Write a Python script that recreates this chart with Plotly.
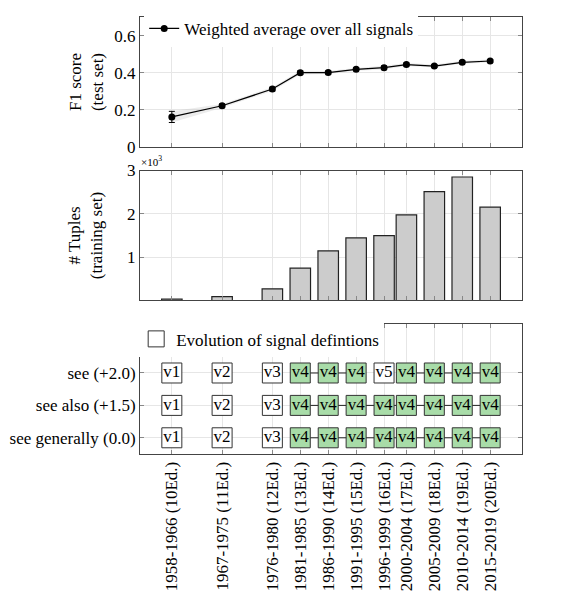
import plotly.graph_objects as go

# ---------------- data ----------------
editions = ["1958-1966 (10Ed.)", "1967-1975 (11Ed.)", "1976-1980 (12Ed.)",
            "1981-1985 (13Ed.)", "1986-1990 (14Ed.)", "1991-1995 (15Ed.)",
            "1996-1999 (16Ed.)", "2000-2004 (17Ed.)", "2005-2009 (18Ed.)",
            "2010-2014 (19Ed.)", "2015-2019 (20Ed.)"]
start_years = [1958, 1967, 1976, 1981, 1986, 1991, 1996, 2000, 2005, 2010, 2015]
f1_score = [0.162, 0.222, 0.312, 0.400, 0.401, 0.418, 0.427, 0.444, 0.436, 0.456, 0.463]
f1_err = [0.030, 0.010, 0.010, 0.010, 0.008, 0.008, 0.010, 0.008, 0.008, 0.008, 0.008]
tuples = [30, 90, 270, 745, 1145, 1445, 1495, 1975, 2515, 2850, 2155]

signal_rows = ["see (+2.0)", "see also (+1.5)", "see generally (0.0)"]
row_pos = [2, 1, 0]
versions_see = ["v1", "v2", "v3", "v4", "v4", "v4", "v5", "v4", "v4", "v4", "v4"]
versions_see_also = ["v1", "v2", "v3", "v4", "v4", "v4", "v4", "v4", "v4", "v4", "v4"]
versions_see_generally = ["v1", "v2", "v3", "v4", "v4", "v4", "v4", "v4", "v4", "v4", "v4"]
versions = [versions_see, versions_see_also, versions_see_generally]

# ---------------- style ----------------
FONT = "Liberation Serif, 'Times New Roman', Times, 'DejaVu Serif', serif"
AXC = "#444444"
GRID = "#e6e6e6"
GREEN = "#a8dca8"

fig = go.Figure()

# band
upper = [v + e for v, e in zip(f1_score, f1_err)]
lower = [v - e for v, e in zip(f1_score, f1_err)]
fig.add_trace(go.Scatter(x=start_years, y=upper, mode="lines", line=dict(width=0),
                         showlegend=False, hoverinfo="skip", xaxis="x", yaxis="y"))
fig.add_trace(go.Scatter(x=start_years, y=lower, mode="lines", line=dict(width=0),
                         fill="tonexty", fillcolor="rgba(200,200,200,0.35)",
                         showlegend=False, hoverinfo="skip", xaxis="x", yaxis="y"))
fig.add_trace(go.Scatter(x=start_years, y=f1_score, mode="lines+markers",
                         name="Weighted average over all signals",
                         line=dict(color="black", width=1.2),
                         marker=dict(color="black", size=7, symbol="circle"),
                         error_y=dict(type="data", array=f1_err, color="black",
                                      thickness=1, width=3),
                         xaxis="x", yaxis="y", legend="legend"))

# bars
fig.add_trace(go.Bar(x=start_years, y=tuples, width=3.67,
                     marker=dict(color="#cccccc", line=dict(color="#222222", width=1.2)),
                     showlegend=False, xaxis="x2", yaxis="y2"))

# connector lines between consecutive v4 boxes
for vers, yp in zip(versions, row_pos):
    lx, ly = [], []
    for i in range(len(vers) - 1):
        if vers[i] == "v4" and vers[i + 1] == "v4":
            lx += [start_years[i], start_years[i + 1], None]
            ly += [yp, yp, None]
    fig.add_trace(go.Scatter(x=lx, y=ly, mode="lines", line=dict(color="#222222", width=1),
                             showlegend=False, hoverinfo="skip", xaxis="x3", yaxis="y3"))

# boxes
bx, by, bt, bc = [], [], [], []
for vers, yp in zip(versions, row_pos):
    for x, v in zip(start_years, vers):
        bx.append(x)
        by.append(yp)
        bt.append(v)
        bc.append(GREEN if v == "v4" else "white")
fig.add_trace(go.Scatter(x=bx, y=by, mode="markers+text", text=bt,
                         textposition="middle center",
                         textfont=dict(family=FONT, size=17, color="black"),
                         marker=dict(symbol="square", size=20, color=bc,
                                     line=dict(color="#333333", width=1)),
                         name="Evolution of signal defintions",
                         xaxis="x3", yaxis="y3", legend="legend2"))

xr = [1952.3, 2020.7]
common_x = dict(range=xr, tickvals=start_years, showgrid=True, gridcolor=GRID,
                gridwidth=1, showline=True, linecolor=AXC, linewidth=1, mirror="allticks",
                ticks="inside", ticklen=4, tickcolor="#888888", zeroline=False)
common_y = dict(showgrid=True, gridcolor=GRID, gridwidth=1, showline=True, linecolor=AXC,
                linewidth=1, mirror="allticks", ticks="inside", ticklen=4,
                tickcolor="#888888", zeroline=False,
                tickfont=dict(family=FONT, size=17, color="black"))

fig.update_layout(
    width=567, height=599,
    margin=dict(l=139.7, r=45.3, t=8, b=145),
    paper_bgcolor="white", plot_bgcolor="white",
    font=dict(family=FONT, size=17, color="black"),
    xaxis=dict(common_x, anchor="y", showticklabels=False),
    xaxis2=dict(common_x, anchor="y2", showticklabels=False),
    xaxis3=dict(common_x, anchor="y3", ticktext=editions, tickangle=-90,
                tickfont=dict(family=FONT, size=17, color="black")),
    yaxis=dict(common_y, domain=[0.7025, 1.0], range=[0, 0.7],
               tickvals=[0, 0.2, 0.4, 0.6], ticktext=["0", "0.2", "0.4", "0.6"],
               title=dict(text="F1 score<br>(test set)", standoff=6,
                          font=dict(family=FONT, size=17))),
    yaxis2=dict(common_y, domain=[0.3513, 0.6487], range=[0, 3000],
                tickvals=[1000, 2000, 3000], ticktext=["1", "2", "3"],
                title=dict(text="# Tuples<br>(training set)", standoff=20,
                           font=dict(family=FONT, size=17))),
    yaxis3=dict(common_y, domain=[0, 0.2966], range=[-0.5, 3.5],
                tickvals=row_pos, ticktext=signal_rows),
    legend=dict(x=0.011, y=1.014, xanchor="left", yanchor="top", bgcolor="white",
                borderwidth=0, font=dict(family=FONT, size=17)),
    legend2=dict(x=-0.01, y=0.3036, xanchor="left", yanchor="top", bgcolor="white",
                 borderwidth=0, font=dict(family=FONT, size=17)),
    annotations=[dict(text="×10<sup>3</sup>", xref="x2 domain", yref="y2 domain",
                      x=0, y=1, xanchor="left", yanchor="bottom", xshift=-1, yshift=1,
                      showarrow=False, font=dict(family=FONT, size=11))],
)

fig.write_html("out.html")
